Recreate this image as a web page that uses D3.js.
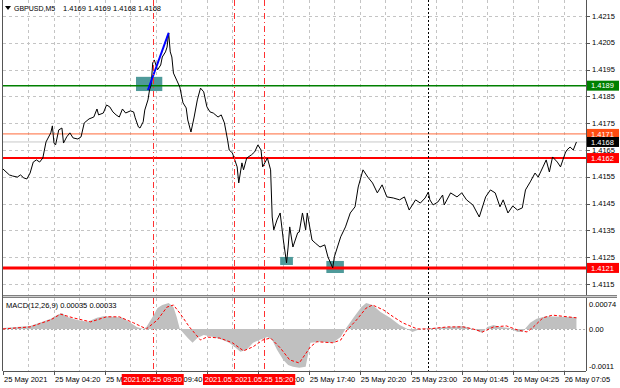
<!DOCTYPE html>
<html><head><meta charset="utf-8">
<script src="https://cdn.jsdelivr.net/npm/d3@7/dist/d3.min.js"></script>
<style>
body{margin:0;background:#fff;}
text{font-family:"Liberation Sans",Arial,sans-serif;font-size:7.5px;fill:#000;}
</style></head><body>
<svg id="chart" width="620" height="388"></svg>
<script>
// GBPUSD M5 closes, [bar index, price]
const closes = [[0,1.41579],[4,1.41557],[6,1.41553],[9,1.41549],[11,1.41557],[13,1.41546],[15,1.41542],[17,1.41564],[19,1.41605],[21,1.41613],[23,1.41605],[25,1.41620],[27,1.41680],[30,1.41714],[31,1.41740],[32,1.41676],[33,1.41669],[35,1.41725],[37,1.41732],[38,1.41676],[40,1.41699],[42,1.41714],[44,1.41695],[47,1.41691],[49,1.41699],[51,1.41751],[54,1.41766],[57,1.41773],[59,1.41803],[60,1.41781],[63,1.41788],[65,1.41818],[67,1.41811],[69,1.41792],[71,1.41781],[73,1.41773],[75,1.41803],[77,1.41788],[80,1.41796],[82,1.41792],[83,1.41770],[85,1.41736],[86,1.41732],[88,1.41755],[89,1.41799],[91,1.41837],[92,1.41874],[93,1.41893],[94,1.41975],[95,1.41986],[97,1.41949],[99,1.41967],[100,1.41997],[102,1.42016],[103,1.42034],[104,1.42087],[105,1.42016],[106,1.41997],[107,1.41937],[109,1.41911],[111,1.41885],[113,1.41826],[115,1.41807],[116,1.41762],[118,1.41717],[120,1.41773],[122,1.41837],[124,1.41881],[126,1.41867],[128,1.41811],[130,1.41792],[132,1.41788],[135,1.41773],[137,1.41781],[139,1.41751],[141,1.41687],[142,1.41650],[144,1.41639],[147,1.41587],[148,1.41527],[150,1.41602],[151,1.41576],[153,1.41620],[156,1.41632],[158,1.41643],[160,1.41669],[162,1.41650],[163,1.41587],[166,1.41620],[168,1.41576],[169,1.41400],[170,1.41352],[172,1.41389],[174,1.41415],[176,1.41314],[178,1.41229],[179,1.41288],[180,1.41363],[182,1.41288],[185,1.41341],[186,1.41344],[188,1.41415],[190,1.41352],[191,1.41415],[194,1.41314],[196,1.41303],[199,1.41288],[202,1.41296],[204,1.41251],[207,1.41210],[208,1.41251],[212,1.41326],[215,1.41363],[218,1.41415],[221,1.41438],[223,1.41512],[226,1.41576],[229,1.41549],[232,1.41527],[235,1.41490],[238,1.41520],[241,1.41475],[245,1.41471],[249,1.41464],[252,1.41475],[255,1.41426],[259,1.41464],[262,1.41452],[265,1.41471],[267,1.41493],[268,1.41464],[270,1.41445],[273,1.41456],[276,1.41482],[277,1.41445],[281,1.41490],[285,1.41475],[288,1.41490],[291,1.41464],[295,1.41445],[299,1.41400],[303,1.41475],[306,1.41501],[309,1.41490],[312,1.41438],[314,1.41464],[317,1.41415],[320,1.41441],[323,1.41426],[326,1.41434],[328,1.41501],[331,1.41531],[334,1.41564],[336,1.41549],[339,1.41587],[341,1.41613],[343,1.41568],[345,1.41624],[348,1.41605],[350,1.41587],[353,1.41639],[354,1.41650],[356,1.41661],[358,1.41650],[360,1.41680]];

// MACD(12,26,9) main histogram and signal, [bar index, value]
const macdHist = [[0,0.00003],[17,0.00009],[23,0.00018],[30,0.00030],[34,0.00041],[37,0.00047],[40,0.00036],[46,0.00027],[53,0.00021],[59,0.00033],[63,0.00038],[69,0.00036],[75,0.00033],[80,0.00018],[84,0.00006],[88,0],[90,0.00006],[94,0.00036],[97,0.00062],[100,0.00071],[104,0.00077],[107,0.00065],[109,0.00036],[111,0],[116,-0.00027],[119,-0.00041],[122,-0.00027],[126,-0.00018],[132,-0.00024],[138,-0.00033],[142,-0.00041],[146,-0.00056],[149,-0.00068],[153,-0.00062],[157,-0.00041],[161,-0.00033],[166,-0.00024],[169,-0.00033],[172,-0.00062],[176,-0.00092],[179,-0.00107],[182,-0.00112],[186,-0.00115],[190,-0.00112],[193,-0.00041],[199,-0.00038],[207,-0.00041],[212,-0.00024],[215,0],[220,0.00033],[225,0.00065],[228,0.00077],[232,0.00071],[237,0.00050],[243,0.00033],[249,0.00012],[254,0],[257,-0.00009],[262,0],[270,0.00003],[279,0.00006],[289,0.00009],[295,0],[301,-0.00012],[304,0.00006],[308,0.00012],[312,0.00006],[318,0.00003],[323,-0.00009],[326,-0.00009],[331,0.00018],[335,0.00030],[341,0.00038],[350,0.00036],[360,0.00035]];
const macdSignal = [[0,0],[17,0.00006],[30,0.00027],[36,0.00044],[44,0.00033],[55,0.00021],[65,0.00036],[73,0.00036],[82,0.00018],[90,0],[97,0.00027],[103,0.00065],[107,0.00071],[111,0.00047],[117,0.00006],[124,-0.00033],[128,-0.00024],[136,-0.00027],[144,-0.00041],[151,-0.00065],[157,-0.00053],[163,-0.00033],[168,-0.00027],[174,-0.00056],[180,-0.00092],[186,-0.00101],[193,-0.00053],[197,-0.00038],[207,-0.00041],[212,-0.00033],[216,-0.00003],[222,0.00027],[228,0.00062],[232,0.00071],[239,0.00056],[245,0.00036],[251,0.00018],[260,0],[267,0],[279,0.00006],[289,0.00006],[295,0],[301,-0.00009],[308,0.00006],[316,0.00009],[323,-0.00003],[329,-0.00009],[333,0.00006],[339,0.00033],[345,0.00041],[360,0.00033]];

const priceTicks = [1.4215, 1.4205, 1.4195, 1.4185, 1.4175, 1.4165, 1.4155, 1.4145, 1.4135, 1.4125, 1.4115];
const macdTicks = [0.00074, 0, -0.0011];
const macdTickLabels = ["0.00074", "0.00", "-0.0011"];
const timeTickBars = [0, 32, 64, 96, 128, 160, 192, 224, 256, 288, 320, 352];
const timeTickLabels = ["25 May 2021", "25 May 04:20", "25 May 07:00", "25 May 09:40", "25 May 12:20", "25 May 15:00", "25 May 17:40", "25 May 20:20", "25 May 23:00", "26 May 01:45", "26 May 04:25", "26 May 07:05"];

// horizontal levels: resistance, ask, bid, support 1, support 2
const levelPrices = [1.4189, 1.4171, 1.4168, 1.4162, 1.4121];
// vertical event lines
const eventBars = [94, 145, 164];
const eventLabels = ["2021.05.25 09:30", "2021.05.25 13:45", "2021.05.25 15:20"];
const dayBreakBar = 267;
// highlighted zones [bar from, bar to] and [price high, price low]
const zoneBars = [[83.5, 100], [174, 182], [203, 214]];
const zonePrices = [[1.41923, 1.41870], [1.41251, 1.41221], [1.41236, 1.41191]];
// trend segment
const trendBars = [91, 104];
const trendPrices = [1.41874, 1.42087];

const svg = d3.select("#chart");
const left = 3, right = 586, mainTop = 0, mainBottom = 295, subTop = 298, subBottom = 371;

const x = d3.scaleLinear().domain([0, 366]).range([left, right]);
const y = d3.scaleLinear().domain([1.4115, 1.4215]).range([284, 16]);
const ym = d3.scaleLinear().domain([-0.0011, 0.00074]).range([366, 304]);

let defs = svg.append("defs");
defs.append("clipPath").attr("id", "clipMain")
    .append("rect").attr("x", left).attr("y", mainTop).attr("width", right - left).attr("height", mainBottom - mainTop);
defs.append("clipPath").attr("id", "clipSub")
    .append("rect").attr("x", left).attr("y", subTop).attr("width", right - left).attr("height", subBottom - subTop);

const gridColor = "#c4c4c4";
const panels = [[mainTop, mainBottom], [subTop, subBottom]];

// vertical grid
let vGrid = d3.range(16, 366, 16);
panels.forEach(function (p) {
    svg.append("g").selectAll("line").data(vGrid).enter().append("line")
        .attr("x1", d => Math.round(x(d)) + 0.5).attr("x2", d => Math.round(x(d)) + 0.5)
        .attr("y1", p[0]).attr("y2", p[1])
        .attr("stroke", gridColor).attr("stroke-dasharray", "3,3");
});

// horizontal grid
svg.append("g").selectAll("line").data(priceTicks).enter().append("line")
    .attr("x1", left).attr("x2", right)
    .attr("y1", d => Math.round(y(d)) + 0.5).attr("y2", d => Math.round(y(d)) + 0.5)
    .attr("stroke", gridColor).attr("stroke-dasharray", "3,3");

// MACD zero line
svg.append("line").attr("x1", left).attr("x2", right)
    .attr("y1", Math.round(ym(0)) + 0.5).attr("y2", Math.round(ym(0)) + 0.5)
    .attr("stroke", "#b0b0b0").attr("stroke-dasharray", "2,2");

let main = svg.append("g").attr("clip-path", "url(#clipMain)");

// zones
main.selectAll("rect.zone").data(zoneBars).enter().append("rect")
    .attr("class", "zone")
    .attr("x", d => x(d[0])).attr("width", d => x(d[1]) - x(d[0]))
    .attr("y", (d, i) => y(zonePrices[i][0]))
    .attr("height", (d, i) => y(zonePrices[i][1]) - y(zonePrices[i][0]))
    .attr("fill", "#4f9a9a");

// levels
const levelColors = ["#008000", "#ff6a3a", "#c8c8c8", "#ff0000", "#ff0000"];
const levelWidths = [1.5, 1, 1, 2, 3];
const levelBg = ["#008000", "#ff4d12", "#000", "#ff0000", "#ff0000"];
main.selectAll("line.level").data(levelPrices).enter().append("line")
    .attr("class", "level")
    .attr("x1", left).attr("x2", right)
    .attr("y1", d => y(d)).attr("y2", d => y(d))
    .attr("stroke", (d, i) => levelColors[i])
    .attr("stroke-width", (d, i) => levelWidths[i]);

// event verticals and day separator
panels.forEach(function (p) {
    svg.append("g").selectAll("line").data(eventBars).enter().append("line")
        .attr("x1", d => Math.round(x(d)) + 0.5).attr("x2", d => Math.round(x(d)) + 0.5)
        .attr("y1", p[0]).attr("y2", p[1])
        .attr("stroke", "#ff3030").attr("stroke-dasharray", "6,3,1,3");
    svg.append("line")
        .attr("x1", Math.round(x(dayBreakBar)) + 0.5).attr("x2", Math.round(x(dayBreakBar)) + 0.5)
        .attr("y1", p[0]).attr("y2", p[1])
        .attr("stroke", "#000").attr("stroke-dasharray", "2,2");
});

// price line
main.append("path").datum(closes)
    .attr("d", d3.line().x(d => x(d[0])).y(d => y(d[1])))
    .attr("fill", "none").attr("stroke", "#000").attr("stroke-width", 1);

// trend segment
main.append("line")
    .attr("x1", x(trendBars[0])).attr("y1", y(trendPrices[0]))
    .attr("x2", x(trendBars[1])).attr("y2", y(trendPrices[1]))
    .attr("stroke", "#0000ff").attr("stroke-width", 2);

// MACD
let sub = svg.append("g").attr("clip-path", "url(#clipSub)");
sub.append("path").datum(macdHist)
    .attr("d", d3.area().x(d => x(d[0])).y0(ym(0)).y1(d => ym(d[1])))
    .attr("fill", "#c0c0c0");
sub.append("path").datum(macdSignal)
    .attr("d", d3.line().x(d => x(d[0])).y(d => ym(d[1])))
    .attr("fill", "none").attr("stroke", "#ff0000").attr("stroke-width", 1)
    .attr("stroke-dasharray", "3,2");

// frame
const frame = "#555";
svg.append("line").attr("x1", left - 0.5).attr("x2", left - 0.5).attr("y1", 0).attr("y2", subBottom).attr("stroke", frame);
svg.append("line").attr("x1", right + 0.5).attr("x2", right + 0.5).attr("y1", 0).attr("y2", subBottom).attr("stroke", frame);
svg.append("line").attr("x1", left).attr("x2", right).attr("y1", subBottom + 0.5).attr("y2", subBottom + 0.5).attr("stroke", frame);
svg.append("rect").attr("x", left).attr("y", mainBottom).attr("width", 617 - left).attr("height", subTop - mainBottom).attr("fill", "#808080");
svg.append("line").attr("x1", left).attr("x2", 617).attr("y1", mainBottom + 1.5).attr("y2", mainBottom + 1.5).attr("stroke", "#d0d0d0");

// price axis
let axisG = svg.append("g");
axisG.selectAll("line").data(priceTicks).enter().append("line")
    .attr("x1", right).attr("x2", right + 4)
    .attr("y1", d => Math.round(y(d)) + 0.5).attr("y2", d => Math.round(y(d)) + 0.5)
    .attr("stroke", frame);
axisG.selectAll("text").data(priceTicks).enter().append("text")
    .attr("x", right + 6).attr("y", d => y(d)).attr("dy", "0.35em")
    .text(d => d3.format(".4f")(d));

// level tags
let tags = svg.append("g").selectAll("g").data(levelPrices).enter().append("g");
tags.append("rect")
    .attr("x", right + 1).attr("width", 32)
    .attr("y", d => y(d) - 5).attr("height", 10)
    .attr("fill", (d, i) => levelBg[i]);
tags.append("text")
    .attr("x", right + 5).attr("y", d => y(d)).attr("dy", "0.35em")
    .style("fill", "#fff")
    .text(d => d3.format(".4f")(d));

// MACD axis
svg.append("g").selectAll("text").data(macdTicks).enter().append("text")
    .attr("x", right + 3).attr("y", d => ym(d)).attr("dy", "0.35em")
    .text((d, i) => macdTickLabels[i]);

// time axis
svg.append("g").selectAll("line").data(timeTickBars).enter().append("line")
    .attr("x1", d => Math.round(x(d)) + 0.5).attr("x2", d => Math.round(x(d)) + 0.5)
    .attr("y1", subBottom).attr("y2", subBottom + 4).attr("stroke", frame);
svg.append("g").selectAll("text").data(timeTickBars).enter().append("text")
    .attr("x", d => x(d) + 1).attr("y", 382)
    .text((d, i) => timeTickLabels[i]);

// event tags on time axis
let evTags = svg.append("g").selectAll("g").data(eventBars).enter().append("g");
evTags.append("rect")
    .attr("x", d => x(d) - 31).attr("width", 62)
    .attr("y", 374).attr("height", 11)
    .attr("fill", "#ff0000");
evTags.append("text")
    .attr("x", d => x(d)).attr("y", 382).attr("text-anchor", "middle")
    .style("fill", "#fff")
    .text((d, i) => eventLabels[i]);

// titles
svg.append("path").attr("d", "M5,6 L11,6 L8,10 Z").attr("fill", "#000");
svg.append("text").attr("x", 14).attr("y", 11).style("font-size", "7px").text("GBPUSD,M5");
svg.append("text").attr("x", 63).attr("y", 11).text("1.4169 1.4169 1.4168 1.4168");
svg.append("text").attr("x", 6).attr("y", 308).text("MACD(12,26,9) 0.00035 0.00033");
</script>
</body></html>
